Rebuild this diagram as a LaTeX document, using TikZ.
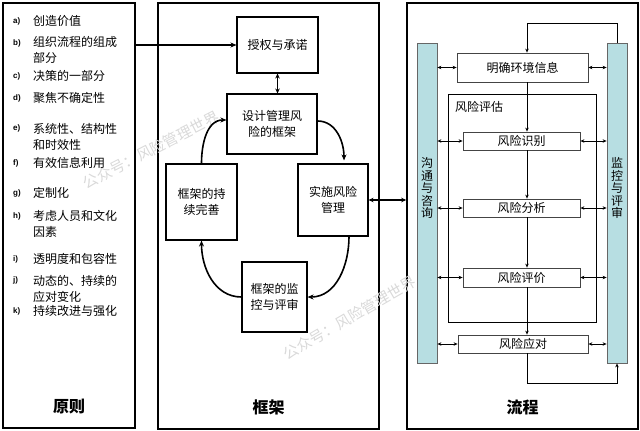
\documentclass[tikz,border=0pt]{standalone}
\usepackage{fontspec}
\newfontfamily\cjk{Noto Sans CJK SC}
\newfontfamily\lat{Liberation Sans}
\usetikzlibrary{arrows.meta}
\definecolor{barfill}{HTML}{B7DEE2}
\definecolor{boxline}{HTML}{444444}
\begin{document}
\begin{tikzpicture}[x=1pt,y=-1pt,
  panel/.style={draw=black,line width=1.6pt,inner sep=0pt},
  fbox/.style={draw=black,line width=1.1pt,inner sep=0pt,align=center,font=\fontsize{12}{16}\selectfont\cjk},
  pbox/.style={draw=boxline,line width=0.8pt,fill=white,inner sep=0pt,align=center,font=\fontsize{12}{14}\selectfont\cjk},
  vbar/.style={draw=gray!80!black,line width=0.8pt,fill=barfill,inner sep=0pt,minimum width=20pt,minimum height=320pt},
  vtext/.style={inner sep=0pt,align=center,font=\fontsize{12}{12.5}\selectfont\cjk},
  lab/.style={inner sep=0pt,anchor=west,font=\fontsize{8}{10}\selectfont\lat\bfseries},
  itm/.style={inner sep=0pt,anchor=west,align=left,font=\fontsize{12}{16}\selectfont\cjk},
  ttl/.style={inner sep=0pt,font=\fontsize{16}{18}\selectfont\cjk\bfseries},
  wm/.style={inner sep=0pt,text=gray!30,font=\fontsize{15}{16}\selectfont\cjk},
  farr/.style={line width=1.6pt,-{Stealth[length=6pt,width=5pt]}},
  parr/.style={line width=0.8pt,-{Stealth[length=4pt,width=3.5pt]}},
  pdarr/.style={line width=0.8pt,{Stealth[length=4pt,width=3.5pt]}-{Stealth[length=4pt,width=3.5pt]}}
]
\useasboundingbox (0,0) rectangle (640,431);
% panels
\node[panel,minimum width=132pt,minimum height=425pt] (leftp) at (69,215.5) {};
\node[panel,minimum width=221pt,minimum height=426pt] (midp) at (268.5,216) {};
\node[panel,minimum width=231pt,minimum height=426pt] (rightp) at (522.5,216) {};
% watermarks
\node[wm,rotate=27] (wm1) at (151,150) {公众号：风险管理世界};
\node[wm,rotate=30] (wm2) at (350,318) {公众号：风险管理世界};
% principles
\node[lab] (la) at (13,21) {a)};  \node[itm] (ta) at (33,21) {创造价值};
\node[lab] (lb) at (13,43) {b)};  \node[itm] (tb) at (33,50) {组织流程的组成\\部分};
\node[lab] (lc) at (13,76) {c)};  \node[itm] (tc) at (33,76) {决策的一部分};
\node[lab] (ld) at (13,98) {d)};  \node[itm] (td) at (33,98) {聚焦不确定性};
\node[lab] (le) at (13,128) {e)}; \node[itm] (te) at (33,136.5) {系统性、结构性\\和时效性};
\node[lab] (lf) at (13,163) {f)}; \node[itm] (tf) at (33,163) {有效信息利用};
\node[lab] (lg) at (13,193) {g)}; \node[itm] (tg) at (33,193) {定制化};
\node[lab] (lh) at (13,216) {h)}; \node[itm] (th) at (33,224) {考虑人员和文化\\因素};
\node[lab] (li) at (13,259) {i)}; \node[itm] (ti) at (33,259) {透明度和包容性};
\node[lab] (lj) at (13,280) {j)}; \node[itm] (tj) at (33,288.5) {动态的、持续的\\应对变化};
\node[lab] (lk) at (13,311) {k)}; \node[itm] (tk) at (33,311) {持续改进与强化};
\node[ttl] (t1) at (69,407) {原则};
% framework
\node[fbox,minimum width=81pt,minimum height=56pt] (auth) at (277.5,45) {授权与承诺};
\node[fbox,minimum width=90pt,minimum height=60pt] (design) at (272,124) {设计管理风\\险的框架};
\node[fbox,minimum width=71pt,minimum height=76pt] (improve) at (201.5,202) {框架的持\\续完善};
\node[fbox,minimum width=70pt,minimum height=72pt] (impl) at (333,200) {实施风险\\管理};
\node[fbox,minimum width=65pt,minimum height=70pt] (monit) at (274.5,297) {框架的监\\控与评审};
\node[ttl] (t2) at (268.5,407) {框架};
\draw[line width=1.4pt,-{Stealth[length=6pt,width=5pt]}] (auth.west -| leftp.east) -- (auth.west);
\draw[line width=1.2pt,{Stealth[length=5pt,width=4.5pt]}-{Stealth[length=5pt,width=4.5pt]}] (auth.south) -- (auth.south |- design.north);
\draw[farr] (improve.north) to[out=90,in=180] ([yshift=4pt]design.west);
\draw[farr] ([yshift=3pt]design.east) to[out=0,in=90] ([xshift=11pt,yshift=3pt]impl.north);
\draw[farr] ([xshift=16pt]impl.south) to[out=-90,in=0] (monit.east);
\draw[farr] (monit.west) to[out=180,in=-90] (improve.south);
\draw[line width=1.1pt,{Stealth[length=5pt,width=4.5pt]}-{Stealth[length=5pt,width=4.5pt]}] (impl.east) -- (impl.east -| rightp.west);
% process
\coordinate (col) at (527,0);
\coordinate (topc) at (527,23);
\coordinate (botc) at (527,383);
\node[draw=black,line width=0.9pt,minimum width=148pt,minimum height=228pt,inner sep=0pt] (assess) at (522,208) {};
\node[inner sep=0pt,anchor=west,font=\fontsize{12}{14}\selectfont\cjk] (assl) at (455,107) {风险评估};
\node[vbar] (bar1) at (427,203) {};
\node[vbar] (bar2) at (617,203) {};
\node[vtext] (bt1) at (427,188) {沟\\通\\与\\咨\\询};
\node[vtext] (bt2) at (617,188) {监\\控\\与\\评\\审};
\node[pbox,minimum width=131pt,minimum height=29pt] (ctx) at (522.5,67.5) {明确环境信息};
\node[pbox,minimum width=117pt,minimum height=18pt] (ident) at (521.5,141) {风险识别};
\node[pbox,minimum width=117pt,minimum height=18pt] (anal) at (521.5,208) {风险分析};
\node[pbox,minimum width=117pt,minimum height=19pt] (eval) at (521.5,277.5) {风险评价};
\node[pbox,minimum width=130pt,minimum height=18pt] (treat) at (523,344) {风险应对};
\node[ttl] (t3) at (522.5,407) {流程};
\draw[parr] (ctx.south -| col) -- (ident.north -| col);
\draw[parr] (ident.south -| col) -- (anal.north -| col);
\draw[parr] (anal.south -| col) -- (eval.north -| col);
\draw[parr] (eval.south -| col) -- (treat.north -| col);
\draw[parr] (bar2.north) |- (topc) -- (ctx.north -| topc);
\draw[parr] (treat.south -| botc) -- (botc) -| (bar2.south);
\foreach \b in {ctx,ident,anal,eval,treat}{
  \draw[pdarr] (bar1.east |- \b.west) -- (\b.west);
  \draw[pdarr] (\b.east) -- (\b.east -| bar2.west);
}
\end{tikzpicture}
\end{document}
